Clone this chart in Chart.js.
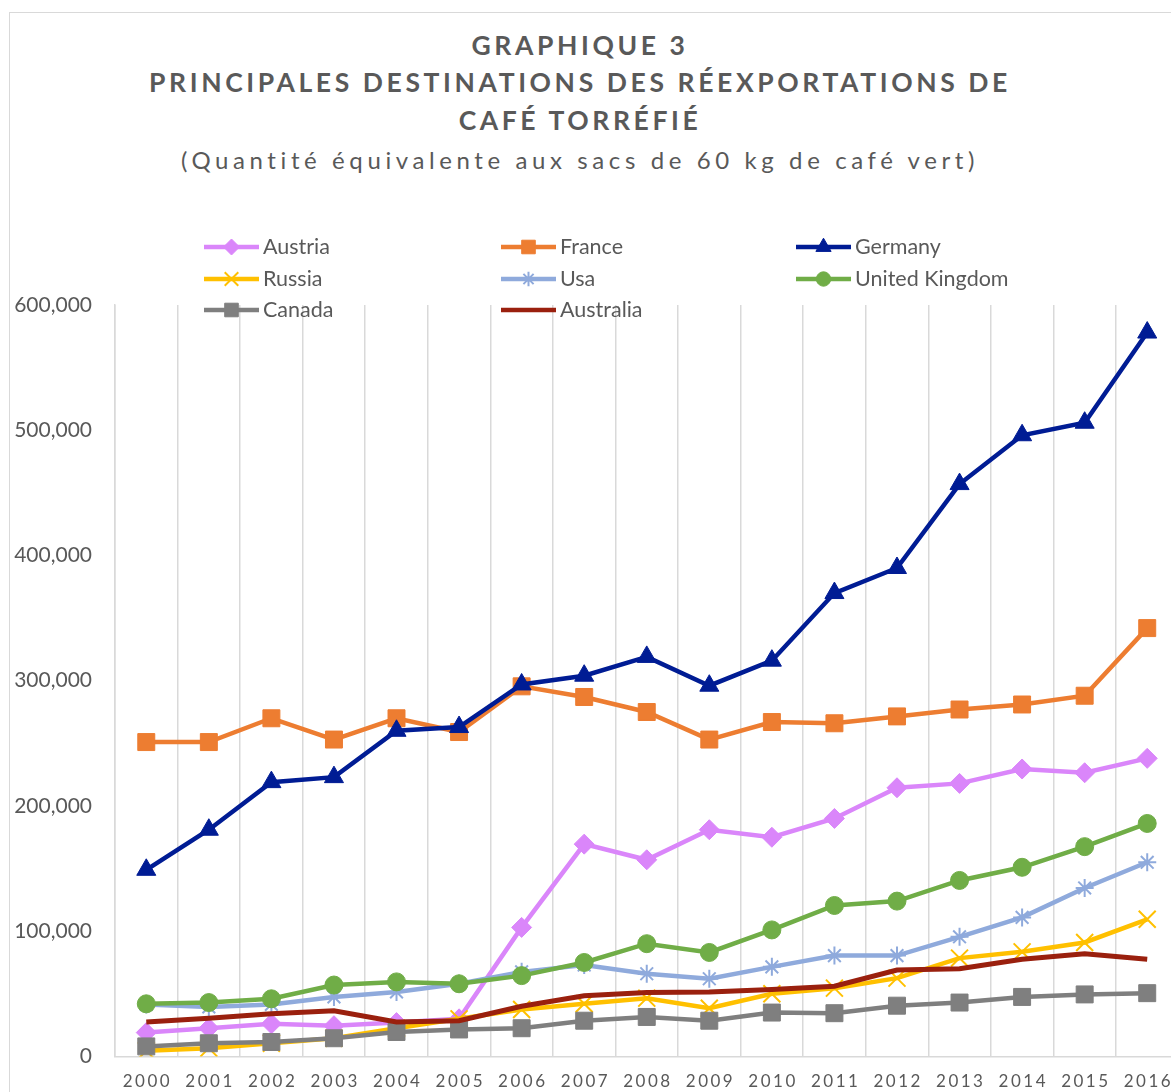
<!DOCTYPE html>
<html>
<head>
<meta charset="utf-8">
<script src="https://cdn.jsdelivr.net/npm/chart.js@4.4.1/dist/chart.umd.min.js"></script>
<style>
  html, body { margin: 0; padding: 0; background: #fff; overflow: hidden; width: 1171px; height: 1092px; }
  .frame { position: absolute; left: 9px; top: 12px; width: 1400px; height: 1400px; border: 1.5px solid #d9d9d9; }
  .title-line {
    position: absolute; left: 0; width: 1160px; text-align: center;
    font-family: Lato, "Open Sans", sans-serif; color: #595959; white-space: nowrap;
  }
  .title-bold { font-weight: bold; font-size: 26.5px; letter-spacing: 3.6px; line-height: 30px; }
  .title-sub { font-size: 24px; letter-spacing: 4.6px; line-height: 30px; }
  #chart { position: absolute; left: 0; top: 0; }
</style>
</head>
<body>
<div class="frame"></div>

<!-- TITLE -->
<div class="title-line title-bold" style="top:30px">GRAPHIQUE 3</div>
<div class="title-line title-bold" style="top:67px">PRINCIPALES DESTINATIONS DES RÉEXPORTATIONS DE</div>
<div class="title-line title-bold" style="top:105px">CAFÉ TORRÉFIÉ</div>
<div class="title-line title-sub" style="top:145px">(Quantité équivalente aux sacs de 60 kg de café vert)</div>

<canvas id="chart" width="1200" height="1092"></canvas>

<script>
const years = ["2000", "2001", "2002", "2003", "2004", "2005", "2006", "2007", "2008",
  "2009", "2010", "2011", "2012", "2013", "2014", "2015", "2016"];

const austria = [19000, 22500, 26000, 24500, 27000, 30000, 103000, 169500, 157000, 181000, 175000, 190000, 214500, 218000, 229500, 226500, 238000];
const france = [251000, 251000, 270000, 253000, 270000, 259000, 295500, 287000, 275000, 253000, 267000, 266000, 271500, 277000, 281000, 288000, 342000];
const germany = [149000, 181000, 219000, 223000, 260000, 263000, 297000, 304000, 319000, 296000, 316000, 370000, 390000, 457000, 496000, 506000, 578000];
const russia = [4500, 6600, 10500, 14500, 22500, 30000, 37500, 42000, 46500, 38500, 50000, 54500, 62500, 78500, 83500, 91000, 109500];
const usa = [41500, 39500, 41500, 47500, 51500, 58000, 67500, 73000, 66000, 62000, 71500, 80500, 80500, 95500, 111000, 134500, 155000];
const unitedKingdom = [42000, 43000, 46000, 57000, 59500, 58000, 64500, 75000, 90000, 83000, 101000, 120500, 124000, 140500, 151000, 167500, 186000];
const canada = [8000, 10500, 11500, 14500, 19500, 21500, 22500, 28500, 31500, 28500, 35000, 34500, 40500, 43000, 47500, 49500, 50500];
const australia = [27500, 30500, 34000, 36500, 27500, 28500, 40000, 48500, 51000, 51500, 53500, 56000, 69000, 70000, 77500, 82000, 77500];

const yTicks = [0, 100000, 200000, 300000, 400000, 500000, 600000];

const textColor = "#595959";
const gridColor = "#d9d9d9";

// series in the legend order (Excel draws later series on top)
const series = [
  { label: "Austria", data: austria, color: "#DA86FA", style: "rectRot", radius: 10, bw: 1 },
  { label: "France", data: france, color: "#ED7D31", style: "rect", radius: 12, bw: 1 },
  { label: "Germany", data: germany, color: "#001C94", style: "triangle", radius: 11, bw: 1 },
  { label: "Russia", data: russia, color: "#FFC000", style: "crossRot", radius: 12, bw: 2 },
  { label: "Usa", data: usa, color: "#8FAADC", style: "star", radius: 9, bw: 2 },
  { label: "United Kingdom", data: unitedKingdom, color: "#70AD47", style: "circle", radius: 9, bw: 1 },
  { label: "Canada", data: canada, color: "#7F7F7F", style: "rect", radius: 12, bw: 1 },
  { label: "Australia", data: australia, color: "#9A200E", style: false, radius: 0, bw: 0 }
];

const datasets = series.map((s, i) => ({
  label: s.label,
  data: s.data,
  borderColor: s.color,
  backgroundColor: s.color,
  borderWidth: s.label === "Australia" ? 5 : 4.5,
  pointStyle: s.style,
  pointRadius: s.radius,
  pointBorderWidth: s.bw,
  pointBackgroundColor: s.color,
  pointBorderColor: s.color,
  tension: 0,
  order: series.length - i
}));

/* ================================
   letter-spaced year labels (drawn at the x scale's tick pixels)
================================ */
const spacedXLabels = {
  id: "spacedXLabels",
  afterDraw(chart) {
    const sc = chart.scales.x;
    const ctx = chart.ctx;
    ctx.save();
    ctx.letterSpacing = "2.5px";
    ctx.font = "17px Lato";
    ctx.fillStyle = textColor;
    ctx.textAlign = "center";
    ctx.textBaseline = "middle";
    sc.ticks.forEach((t, i) => {
      ctx.fillText(sc.getLabelForValue(t.value), sc.getPixelForTick(i) + 1.2, chart.chartArea.bottom + 25);
    });
    ctx.restore();
  }
};

/* ================================
   3-column legend like the Excel one
================================ */
const gridLegend = {
  id: "gridLegend",
  afterDraw(chart) {
    const ctx = chart.ctx;
    const colX = [204, 501, 796];
    const rowY = [247, 279, 310];
    const lineLen = 55;
    ctx.save();
    series.forEach((s, i) => {
      const x0 = colX[i % 3];
      const y = rowY[Math.floor(i / 3)];
      ctx.strokeStyle = s.color;
      ctx.lineWidth = 4.5;
      ctx.beginPath();
      ctx.moveTo(x0, y);
      ctx.lineTo(x0 + lineLen, y);
      ctx.stroke();
      if (s.style) {
        ctx.fillStyle = s.color;
        ctx.lineWidth = s.bw;
        Chart.helpers.drawPoint(ctx, { pointStyle: s.style, radius: s.radius * 0.8, rotation: 0, borderWidth: s.bw }, x0 + lineLen / 2, y);
      }
      ctx.fillStyle = textColor;
      ctx.font = "21.5px Lato";
      ctx.textBaseline = "middle";
      ctx.textAlign = "left";
      ctx.fillText(s.label, x0 + lineLen + 4, y);
    });
    ctx.restore();
  }
};

new Chart(document.getElementById("chart").getContext("2d"), {
  type: "line",
  data: { labels: years, datasets: datasets },
  options: {
    responsive: false,
    animation: false,
    layout: { padding: { top: 305, left: 0, right: 21.5, bottom: 32 } },
    plugins: {
      legend: { display: false },
      tooltip: { enabled: false }
    },
    scales: {
      x: {
        offset: true,
        grid: { offset: true, color: gridColor, lineWidth: 1.5, drawTicks: false },
        border: { color: gridColor, width: 1.5 },
        ticks: { display: false, autoSkip: false }
      },
      y: {
        min: 0,
        max: 600000,
        afterBuildTicks: (scale) => { scale.ticks = yTicks.map(v => ({ value: v })); },
        grid: { display: false, drawTicks: false },
        border: { display: true, color: gridColor, width: 1.5 },
        ticks: {
          color: textColor,
          font: { family: "Lato", size: 21 },
          padding: 23,
          callback: v => v.toLocaleString("en-US")
        },
        afterFit: (scale) => { scale.width = 115; }
      }
    }
  },
  plugins: [spacedXLabels, gridLegend]
});
</script>
</body>
</html>
